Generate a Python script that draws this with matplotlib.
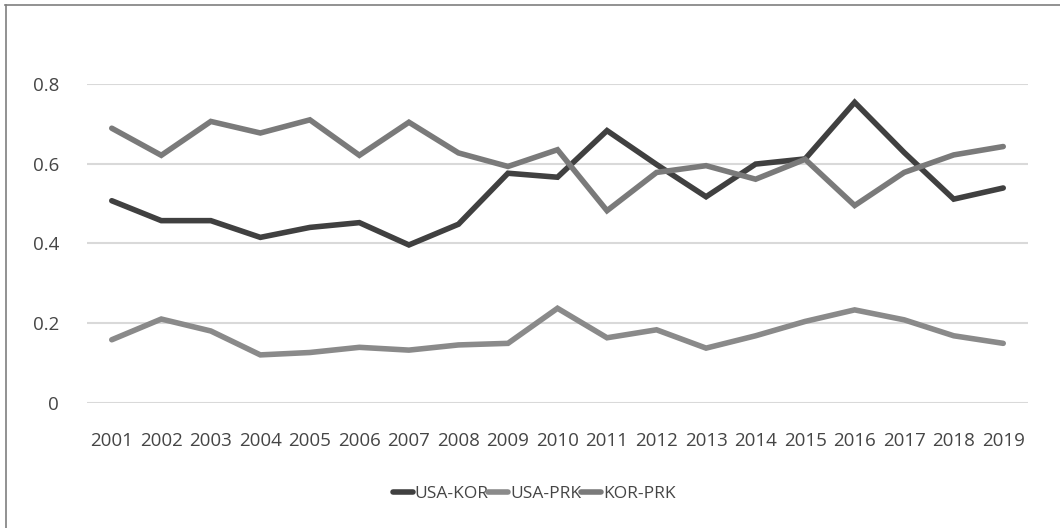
import matplotlib
matplotlib.use("Agg")
import matplotlib.pyplot as plt
from matplotlib.lines import Line2D

years = [str(y) for y in range(2001, 2020)]
usa_kor = [0.507, 0.457, 0.457, 0.415, 0.440, 0.452, 0.396, 0.448, 0.576, 0.566,
           0.683, 0.598, 0.517, 0.599, 0.612, 0.754, 0.628, 0.511, 0.539]
usa_prk = [0.158, 0.210, 0.180, 0.120, 0.126, 0.139, 0.132, 0.145, 0.149, 0.237,
           0.163, 0.183, 0.137, 0.168, 0.204, 0.233, 0.208, 0.168, 0.149]
kor_prk = [0.689, 0.621, 0.706, 0.677, 0.710, 0.621, 0.704, 0.627, 0.593, 0.635,
           0.482, 0.578, 0.595, 0.561, 0.611, 0.495, 0.578, 0.622, 0.643]
y_ticks = [0, 0.2, 0.4, 0.6, 0.8]
y_labels = ["0", "0.2", "0.4", "0.6", "0.8"]

series = [("USA-KOR", usa_kor, "#404040"),
          ("USA-PRK", usa_prk, "#8a8a8a"),
          ("KOR-PRK", kor_prk, "#7a7a7a")]

plt.rcParams["font.family"] = ["Open Sans", "DejaVu Sans"]
text_color = "#454545"

fig = plt.figure(figsize=(10.6, 5.28), dpi=100)
ax = fig.add_axes([87 / 1060, 1 - 402.7 / 528, (1028 - 87) / 1060, (402.7 - 84) / 528])

x = list(range(len(years)))
for name, vals, color in series:
    ax.plot(x, vals, color=color, lw=4.0, solid_capstyle="round",
            solid_joinstyle="miter", clip_on=False, zorder=3, label=name)

ax.set_xlim(-0.5, len(years) - 0.5)
ax.set_ylim(0, 0.8)
ax.set_yticks(y_ticks)
ax.set_yticklabels(y_labels)
ax.set_xticks(x)
ax.set_xticklabels(years)
ax.yaxis.grid(True, color="#d9d9d9", lw=1.5)
ax.set_axisbelow(True)
for s in ax.spines.values():
    s.set_visible(False)
ax.tick_params(axis="both", length=0, labelsize=13.5, colors=text_color)
ax.tick_params(axis="y", pad=20)
ax.tick_params(axis="x", pad=21)

handles = [Line2D([], [], color=c, lw=4.0, solid_capstyle="round") for _, _, c in series]
leg = fig.legend(handles, [n for n, _, _ in series], loc="center",
                 bbox_to_anchor=(534 / 1060, 1 - 494 / 528), ncol=3, frameon=False,
                 handlelength=1.15, handletextpad=0.1, columnspacing=0.0,
                 fontsize=12.5)
for t in leg.get_texts():
    t.set_color(text_color)

# chart frame
fig.add_artist(Line2D([5 / 1060, 1.0], [1 - 4.5 / 528, 1 - 4.5 / 528],
                      transform=fig.transFigure, color="#7f7f7f", lw=1.2))
fig.add_artist(Line2D([5.5 / 1060, 5.5 / 1060], [0.0, 1 - 4.5 / 528],
                      transform=fig.transFigure, color="#7f7f7f", lw=1.2))

fig.savefig("out.png", dpi=100, facecolor="white")
